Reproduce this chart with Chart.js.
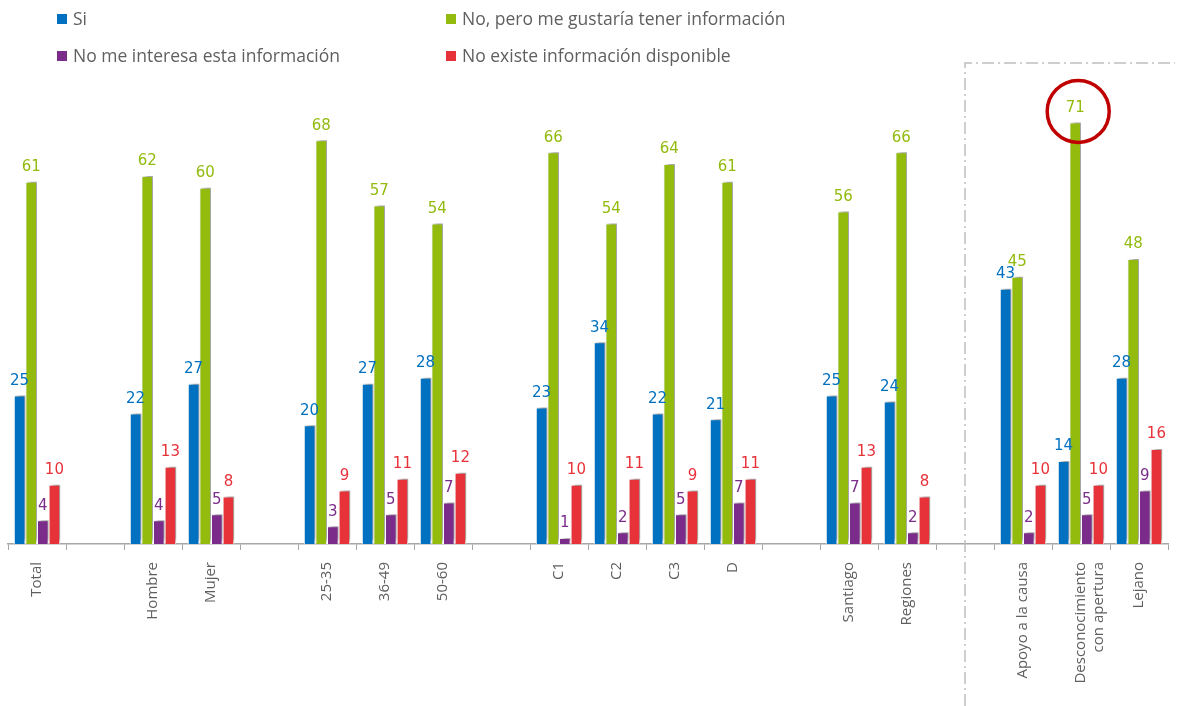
<!DOCTYPE html>
<html>
<head>
<meta charset="utf-8">
<script src="https://cdn.jsdelivr.net/npm/chart.js@4/dist/chart.umd.min.js"></script>
<style>
  html, body { margin: 0; padding: 0; background: #fff; }
  #wrap { position: relative; width: 1183px; height: 706px; }
  #legend { position: absolute; left: 0; top: 0; width: 1183px; height: 70px; font-family: "Open Sans", sans-serif; font-size: 17.5px; color: #5F5F5F; }
  .item { position: absolute; white-space: nowrap; line-height: 20px; }
  .item i { display: inline-block; width: 10px; height: 10px; margin-right: 6px; vertical-align: 1px; }
</style>
</head>
<body>
<div id="wrap">
  <canvas id="chart" width="1183" height="706"></canvas>
  <div id="legend"></div>
</div>
<script>
// Categorías (las vacías son separadores)
const categorias = ["Total", "", "Hombre", "Mujer", "", "25-35", "36-49", "50-60", "", "C1", "C2", "C3", "D", "",
  "Santiago", "Regiones", "", "Apoyo a la causa", ["Desconocimiento", "con apertura"], "Lejano"];

const series = ["Si", "No, pero me gustaría tener información", "No me interesa esta información", "No existe información disponible"];
const colores = ["#0070C0", "#92BB0E", "#7B2C8B", "#E8323A"];

const si =          [25, null, 22, 27, null, 20, 27, 28, null, 23, 34, 22, 21, null, 25, 24, null, 43, 14, 28];
const noPeroMe =    [61, null, 62, 60, null, 68, 57, 54, null, 66, 54, 64, 61, null, 56, 66, null, 45, 71, 48];
const noInteresa =  [4, null, 4, 5, null, 3, 5, 7, null, 1, 2, 5, 7, null, 7, 2, null, 2, 5, 9];
const noExiste =    [10, null, 13, 8, null, 9, 11, 12, null, 10, 11, 9, 11, null, 13, 8, null, 10, 10, 16];

const valores = [si, noPeroMe, noInteresa, noExiste];

// Leyenda HTML en dos columnas
const legendPos = [[57, 8], [446, 8], [57, 45], [446, 45]];
const legend = document.getElementById("legend");
series.forEach((s, i) => {
  const d = document.createElement("div");
  d.className = "item";
  d.style.left = legendPos[i][0] + "px";
  d.style.top = legendPos[i][1] + "px";
  d.innerHTML = '<i style="background:' + colores[i] + '"></i>' + s;
  legend.appendChild(d);
});

// Sombra de las barras
const sombra = {
  id: "sombra",
  beforeDatasetDraw(chart) {
    const ctx = chart.ctx;
    ctx.save();
    ctx.shadowColor = "rgba(0,0,0,0.4)";
    ctx.shadowBlur = 4;
    ctx.shadowOffsetX = 3;
    ctx.shadowOffsetY = -3;
  },
  afterDatasetDraw(chart) {
    chart.ctx.restore();
  }
};

// Etiquetas de valores
const etiquetas = {
  id: "etiquetas",
  afterDatasetsDraw(chart) {
    const ctx = chart.ctx;
    ctx.save();
    ctx.font = "15px 'DejaVu Sans'";
    ctx.textAlign = "center";
    ctx.textBaseline = "bottom";
    chart.data.datasets.forEach((ds, i) => {
      const meta = chart.getDatasetMeta(i);
      ctx.fillStyle = colores[i];
      meta.data.forEach((bar, j) => {
        const v = ds.data[j];
        if (v === null || v === undefined) return;
        ctx.fillText(v, bar.x, bar.y - 7);
      });
    });
    ctx.restore();
  }
};

// Línea punteada y círculo destacado
const anotaciones = {
  id: "anotaciones",
  afterDraw(chart) {
    const ctx = chart.ctx;
    const x = chart.scales.x;
    const y = chart.scales.y;
    const xs = x.getPixelForValue(16);
    const ytop = y.getPixelForValue(81);
    ctx.save();
    ctx.strokeStyle = "#BFBFBF";
    ctx.lineWidth = 1.5;
    ctx.setLineDash([12, 4, 2, 4]);
    ctx.beginPath();
    ctx.moveTo(xs, chart.height);
    ctx.lineTo(xs, ytop);
    ctx.lineTo(chart.width - 8, ytop);
    ctx.stroke();
    ctx.setLineDash([]);
    const bar = chart.getDatasetMeta(1).data[18];
    ctx.strokeStyle = "#C00000";
    ctx.lineWidth = 3.5;
    ctx.beginPath();
    ctx.arc(bar.x + 3, bar.y - 11, 31, 0, Math.PI * 2);
    ctx.stroke();
    ctx.restore();
  }
};

new Chart(document.getElementById("chart"), {
  type: "bar",
  data: {
    labels: categorias,
    datasets: series.map((s, i) => ({
      label: s,
      data: valores[i],
      backgroundColor: colores[i],
      borderColor: "#FFFFFF",
      borderWidth: 1,
      categoryPercentage: 0.8,
      barPercentage: 1
    }))
  },
  options: {
    responsive: false,
    animation: false,
    layout: { padding: { top: 69, left: 8, right: 15, bottom: 0 } },
    plugins: {
      legend: { display: false },
      tooltip: { enabled: false }
    },
    scales: {
      y: {
        display: false,
        min: 0,
        max: 80
      },
      x: {
        afterFit(scale) { scale.height = 162; },
        grid: {
          offset: true,
          drawOnChartArea: false,
          color: "#A6A6A6",
          tickLength: 6,
          tickColor: "#A6A6A6"
        },
        border: { color: "#A6A6A6", width: 1.5 },
        ticks: {
          maxRotation: 90,
          minRotation: 90,
          autoSkip: false,
          padding: 12,
          color: "#5F5F5F",
          font: { family: "'Open Sans'", size: 15 }
        }
      }
    }
  },
  plugins: [sombra, etiquetas, anotaciones]
});
</script>
</body>
</html>
